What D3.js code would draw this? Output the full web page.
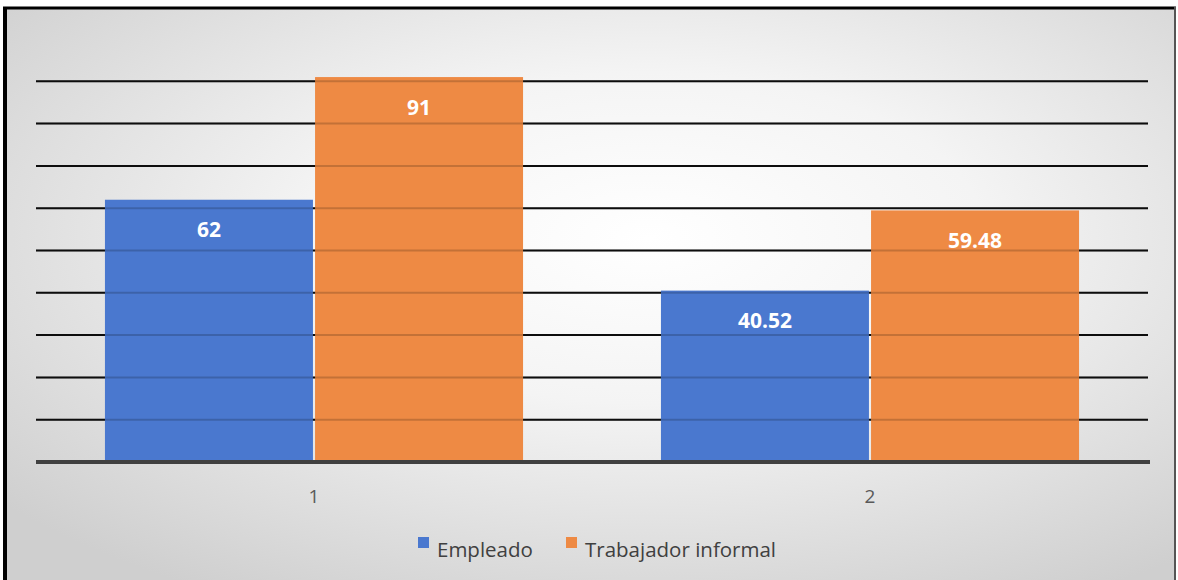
<!DOCTYPE html>
<html>
<head>
<meta charset="utf-8">
<script src="https://cdn.jsdelivr.net/npm/d3@7"></script>
<style>
  body { margin: 0; background: #fff; }
  svg { display: block; }
</style>
</head>
<body>
<div id="chart"></div>
<script>
// datos
const categories = ["1", "2"];
const series = ["Empleado", "Trabajador informal"];
const empleado = [62, 40.52];
const informal = [91, 59.48];
const colors = ["#4a78cf", "#ee8a44"];
const gridTicks = [10, 20, 30, 40, 50, 60, 70, 80, 90];

const width = 1178, height = 580;

const svg = d3.select("#chart").append("svg")
  .attr("width", width)
  .attr("height", height);

// fondo con degradado radial
const defs = svg.append("defs");
const grad = defs.append("radialGradient")
  .attr("id", "bg")
  .attr("cx", "55%").attr("cy", "40%").attr("r", "72%");
grad.append("stop").attr("offset", "0%").attr("stop-color", "#ffffff");
grad.append("stop").attr("offset", "40%").attr("stop-color", "#f4f4f4");
grad.append("stop").attr("offset", "100%").attr("stop-color", "#cfcfcf");

svg.append("rect")
  .attr("x", 5).attr("y", 8)
  .attr("width", 1170).attr("height", 575)
  .attr("fill", "url(#bg)");

// marco
svg.append("line").attr("x1", 5).attr("x2", 5).attr("y1", 7).attr("y2", 580)
  .attr("stroke", "#000").attr("stroke-width", 4);
svg.append("line").attr("x1", 3).attr("x2", 1176).attr("y1", 8).attr("y2", 8)
  .attr("stroke", "#000").attr("stroke-width", 3);
svg.append("line").attr("x1", 1175).attr("x2", 1175).attr("y1", 7).attr("y2", 580)
  .attr("stroke", "#555").attr("stroke-width", 2);

const plotLeft = 36, plotRight = 1148, baseY = 462;

const x0 = d3.scaleBand().domain(categories).range([plotLeft, plotRight]);
const groupW = x0.bandwidth() * 0.752;
const x1 = d3.scaleBand().domain(series).range([0, groupW]).paddingInner(0.01);
const y = d3.scaleLinear().domain([0, 100]).range([baseY, 39]);

// lineas de cuadricula
svg.append("g").selectAll("line")
  .data(gridTicks)
  .join("line")
  .attr("x1", plotLeft).attr("x2", plotRight)
  .attr("y1", d => y(d)).attr("y2", d => y(d))
  .attr("stroke", "#111").attr("stroke-width", 2);

const rows = categories.map((c, i) => ({
  cat: c,
  vals: [{ s: series[0], v: empleado[i], k: 0 }, { s: series[1], v: informal[i], k: 1 }]
}));

const groups = svg.append("g").selectAll("g")
  .data(rows)
  .join("g")
  .attr("transform", d => `translate(${x0(d.cat) + (x0.bandwidth() - groupW) / 2},0)`);

groups.selectAll("rect")
  .data(d => d.vals)
  .join("rect")
  .attr("x", d => x1(d.s))
  .attr("y", d => y(d.v))
  .attr("width", x1.bandwidth())
  .attr("height", d => baseY - y(d.v))
  .attr("fill", d => colors[d.k]);

// cuadricula tenue sobre las barras
svg.append("g").selectAll("line")
  .data(gridTicks)
  .join("line")
  .attr("x1", plotLeft).attr("x2", plotRight)
  .attr("y1", d => y(d)).attr("y2", d => y(d))
  .attr("stroke", "#000").attr("stroke-opacity", 0.18).attr("stroke-width", 2);

groups.selectAll("text")
  .data(d => d.vals)
  .join("text")
  .attr("x", d => x1(d.s) + x1.bandwidth() / 2)
  .attr("y", d => y(d.v) + 32)
  .attr("text-anchor", "middle")
  .attr("dominant-baseline", "middle")
  .attr("fill", "#fff")
  .attr("font-family", "'Open Sans', sans-serif")
  .attr("font-weight", "bold")
  .attr("font-size", 21)
  .text(d => d.v);

// eje x
svg.append("line")
  .attr("x1", plotLeft).attr("x2", plotRight + 2)
  .attr("y1", baseY).attr("y2", baseY)
  .attr("stroke", "#404040").attr("stroke-width", 4);

svg.append("g").selectAll("text")
  .data(categories)
  .join("text")
  .attr("x", d => x0(d) + x0.bandwidth() / 2)
  .attr("y", 498)
  .attr("text-anchor", "middle")
  .attr("dominant-baseline", "middle")
  .attr("fill", "#595959")
  .attr("font-family", "'Open Sans', sans-serif")
  .attr("font-size", 19)
  .text(d => d);

// leyenda
const legendX = [418, 566];
const legend = svg.append("g").selectAll("g")
  .data(series)
  .join("g")
  .attr("transform", (d, i) => `translate(${legendX[i]},552)`);
legend.append("rect")
  .attr("x", 0).attr("y", -15)
  .attr("width", 11).attr("height", 11)
  .attr("fill", (d, i) => colors[i]);
legend.append("text")
  .attr("x", 19).attr("y", 0)
  .attr("dominant-baseline", "middle")
  .attr("fill", "#404040")
  .attr("font-family", "'Open Sans', sans-serif")
  .attr("font-size", 20.5)
  .text(d => d);
</script>
</body>
</html>
